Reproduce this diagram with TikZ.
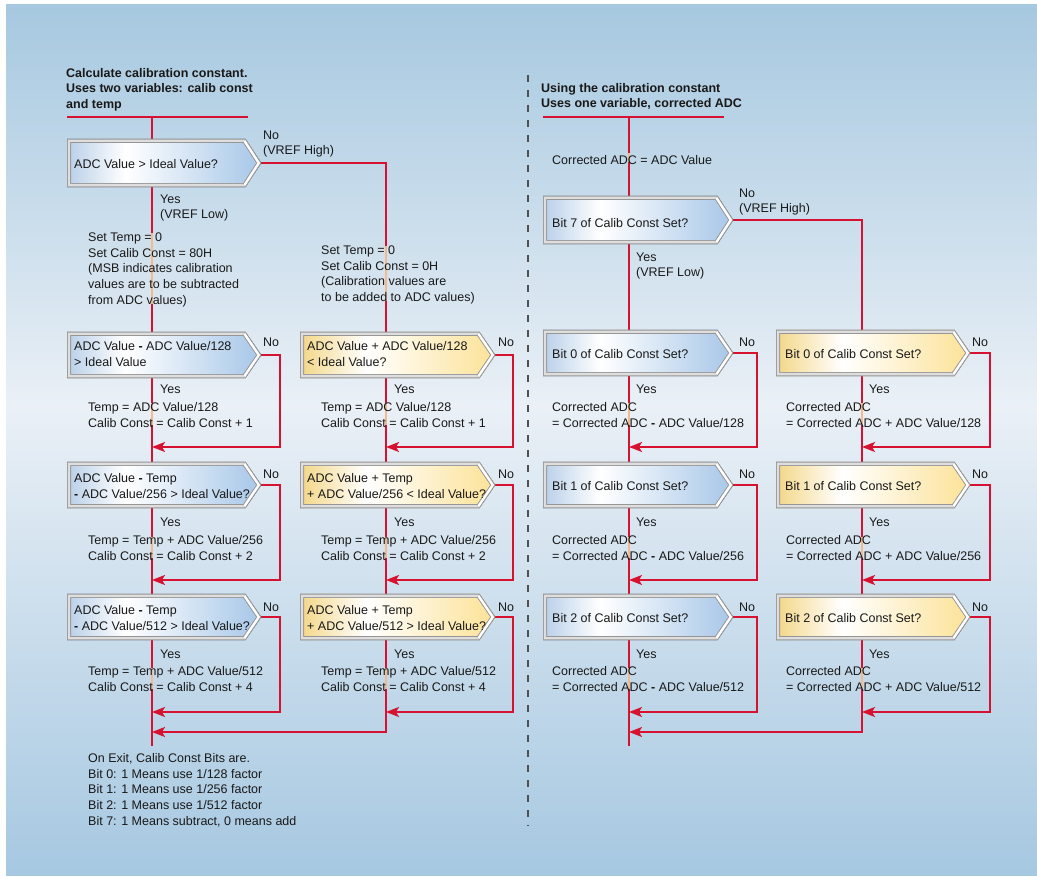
\documentclass[tikz,border=0pt]{standalone}
\usepackage{fontspec}
\setmainfont{Liberation Sans}
\usetikzlibrary{arrows.meta,calc}
\definecolor{redl}{RGB}{214,18,48}
\definecolor{orl}{RGB}{244,186,142}
\definecolor{bgT}{RGB}{166,200,224}
\definecolor{bgM}{RGB}{234,240,246}
\definecolor{bgB}{RGB}{166,200,225}
\definecolor{blA}{RGB}{184,207,232}
\definecolor{blB}{RGB}{166,198,232}
\definecolor{yeA}{RGB}{243,214,134}
\definecolor{yeB}{RGB}{252,226,150}
\definecolor{txc}{RGB}{25,25,25}
\definecolor{dashc}{RGB}{80,80,80}
\definecolor{bevO}{RGB}{150,150,150}
\definecolor{bevI}{RGB}{222,222,222}
\pgfdeclareverticalshading{bgsh}{100bp}{color(0bp)=(bgB); color(25bp)=(bgB); color(52bp)=(bgM); color(75bp)=(bgT); color(100bp)=(bgT)}
\pgfdeclarehorizontalshading{bluesh}{100bp}{color(0bp)=(blA); color(25bp)=(blA); color(40bp)=(white); color(75bp)=(blB); color(100bp)=(blB)}
\pgfdeclarehorizontalshading{yellowsh}{100bp}{color(0bp)=(yeA); color(25bp)=(yeA); color(42bp)=(white); color(75bp)=(yeB); color(100bp)=(yeB)}
\pgfdeclarelayer{back}
\pgfdeclarelayer{mid}
\pgfsetlayers{back,mid,main}
\tikzset{
  txt/.style={anchor=north west, yshift=11pt, align=left, inner sep=0pt, font=\fontsize{12.5}{15.7}\selectfont, text=txc, execute at begin node={\rule{0pt}{12pt}}},
  ml/.style={yshift=-3pt},
  hdr/.style={txt, ml, font=\fontsize{12.5}{15.2}\selectfont\bfseries},
  boxbody/.style={rectangle, anchor=west, inner sep=0pt, draw=none},
  bevel/.style={draw=bevO, line width=0.8pt, double=bevI, double distance=2.4pt, line join=miter},
  rl/.style={draw=redl, line width=1.8pt},
  arr/.style={rl, -{Stealth[length=13pt, width=10pt, inset=3pt]}},
  orng/.style={draw=orl, line width=1.8pt},
}
\newcommand\dbox[6]{%
  \node[boxbody, minimum width=#4, minimum height=#5] (#1) at (#2,#3) {};
  \coordinate (#1-tip) at ($(#1.east)+(16,0)$);
  \fill[shading=#6sh] (#1.north west) -- (#1.north east) -- (#1-tip) -- (#1.south east) -- (#1.south west) -- cycle;
  \draw[bevel] ([shift={(2,2)}]#1.north west) -- ([shift={(-1,2)}]#1.north east) -- ([shift={(-2.6,0)}]#1-tip) -- ([shift={(-1,-2)}]#1.south east) -- ([shift={(2,-2)}]#1.south west) -- cycle;
  \draw[bevel, double=white] ([shift={(-1,2)}]#1.north east) -- ([shift={(-2.6,0)}]#1-tip) -- ([shift={(-1,-2)}]#1.south east);
}
\newcommand\ovl[2]{\draw[orng] ([yshift=-1]#1 |- #2.north) -- ([yshift=3]#1 |- #2.south);}
\newcommand\mi{\textbf{-}}
\begin{document}
\begin{tikzpicture}[x=1pt, y=-1pt]
\useasboundingbox (0,0) rectangle (1037,877);
\begin{pgfonlayer}{back}
\fill[white] (0,0) rectangle (1037,877);
\fill[shading=bgsh] (6,5) rectangle (1037,875);
\end{pgfonlayer}

% column coordinates
\coordinate (cL) at (152,0);
\coordinate (cM) at (386,0);
\coordinate (cR) at (629,0);
\coordinate (cY) at (862,0);
\coordinate (rL) at (280,0);
\coordinate (rM) at (513,0);
\coordinate (rR) at (757,0);
\coordinate (rY) at (990,0);

% header lines
\coordinate (hLa) at (67,117);
\coordinate (hLb) at (248,117);
\coordinate (hRa) at (543,117);
\coordinate (hRb) at (724,117);

% merge points
\coordinate (mL1) at (152,447);
\coordinate (mL2) at (152,580);
\coordinate (mL3) at (152,712);
\coordinate (mL4) at (152,732);
\coordinate (eL) at (152,746);
\coordinate (mM1) at (386,447);
\coordinate (mM2) at (386,580);
\coordinate (mM3) at (386,712);
\coordinate (mR1) at (629,447);
\coordinate (mR2) at (629,580);
\coordinate (mR3) at (629,712);
\coordinate (mR4) at (629,732);
\coordinate (eR) at (629,746);
\coordinate (mY1) at (862,447);
\coordinate (mY2) at (862,580);
\coordinate (mY3) at (862,712);

% divider
\coordinate (dA) at (528,75);
\coordinate (dB) at (528,826);

% decision boxes
\dbox{L1}{67}{163}{178}{48}{blue}
\dbox{L2}{67}{355}{178}{46}{blue}
\dbox{L3}{67}{485}{178}{46}{blue}
\dbox{L4}{67}{617}{178}{46}{blue}
\dbox{M1}{300}{355}{179}{46}{yellow}
\dbox{M2}{300}{485}{179}{46}{yellow}
\dbox{M3}{300}{617}{179}{46}{yellow}
\dbox{R1}{543}{220}{174}{48}{blue}
\dbox{R2}{543}{353}{174}{46}{blue}
\dbox{R3}{543}{485}{174}{46}{blue}
\dbox{R4}{543}{617}{174}{46}{blue}
\dbox{Y1}{776}{353}{178}{46}{yellow}
\dbox{Y2}{776}{485}{178}{46}{yellow}
\dbox{Y3}{776}{617}{178}{46}{yellow}

% red connectors (behind boxes)
\begin{pgfonlayer}{back}
\draw[dashc, line width=1.8pt, dash pattern=on 7pt off 8pt] (dA) -- (dB);
\draw[rl] (hLa) -- (hLb);
\draw[rl] (hRa) -- (hRb);
\draw[rl] (cL |- hLa) -- (cL |- L1.north);
\draw[rl] (cR |- hRa) -- (cR |- R1.north);
\draw[rl] (cL |- L1.south) -- (cL |- L2.north);
\draw[rl] (cL |- L2.south) -- (cL |- L3.north);
\draw[rl] (cL |- L3.south) -- (cL |- L4.north);
\draw[rl] (cL |- L4.south) -- (eL);
\draw[rl] (L1-tip) -| (cM |- M1.north);
\draw[rl] (cM |- M1.south) -- (cM |- M2.north);
\draw[rl] (cM |- M2.south) -- (cM |- M3.north);
\draw[arr] (cM |- M3.south) |- (mL4);
\draw[arr] (L2-tip) -| (rL |- mL1) -- (mL1);
\draw[arr] (L3-tip) -| (rL |- mL2) -- (mL2);
\draw[arr] (L4-tip) -| (rL |- mL3) -- (mL3);
\draw[arr] (M1-tip) -| (rM |- mM1) -- (mM1);
\draw[arr] (M2-tip) -| (rM |- mM2) -- (mM2);
\draw[arr] (M3-tip) -| (rM |- mM3) -- (mM3);
\draw[rl] (cR |- R1.south) -- (cR |- R2.north);
\draw[rl] (cR |- R2.south) -- (cR |- R3.north);
\draw[rl] (cR |- R3.south) -- (cR |- R4.north);
\draw[rl] (cR |- R4.south) -- (eR);
\draw[rl] (R1-tip) -| (cY |- Y1.north);
\draw[rl] (cY |- Y1.south) -- (cY |- Y2.north);
\draw[rl] (cY |- Y2.south) -- (cY |- Y3.north);
\draw[arr] (cY |- Y3.south) |- (mR4);
\draw[arr] (R2-tip) -| (rR |- mR1) -- (mR1);
\draw[arr] (R3-tip) -| (rR |- mR2) -- (mR2);
\draw[arr] (R4-tip) -| (rR |- mR3) -- (mR3);
\draw[arr] (Y1-tip) -| (rY |- mY1) -- (mY1);
\draw[arr] (Y2-tip) -| (rY |- mY2) -- (mY2);
\draw[arr] (Y3-tip) -| (rY |- mY3) -- (mY3);
\end{pgfonlayer}

% ---------- texts ----------
\node[hdr] (hL) at (66,76.5) {Calculate calibration constant.\\Uses two variables: calib const\\and temp};
\node[hdr] (hR) at (541,91.5) {Using the calibration constant\\Uses one variable, corrected ADC};

% left column
\node[txt] (tL1) at (74,167.5) {ADC Value > Ideal Value?};
\node[txt, ml] (nL1) at (263,138.5) {No\\(VREF High)};
\node[txt, ml] (yL1) at (160,202.5) {Yes\\(VREF Low)};
\node[txt, ml] (sL) at (88,240.5) {Set Temp = 0\\Set Calib Const = 80H\\(MSB indicates calibration\\values are to be subtracted\\from ADC values)};
\node[txt, ml] (tL2) at (74,349.5) {ADC Value \mi{} ADC Value/128\\> Ideal Value};
\node[txt] (nL2) at (263,345.5) {No};
\node[txt] (yL2) at (160,392.5) {Yes};
\node[txt, ml] (aL2) at (88,410.5) {Temp = ADC Value/128\\Calib Const = Calib Const + 1};
\node[txt, ml] (tL3) at (74,481.5) {ADC Value \mi{} Temp\\\mi{} ADC Value/256 > Ideal Value?};
\node[txt] (nL3) at (263,477.5) {No};
\node[txt] (yL3) at (160,525.5) {Yes};
\node[txt, ml] (aL3) at (88,543.5) {Temp = Temp + ADC Value/256\\Calib Const = Calib Const + 2};
\node[txt, ml] (tL4) at (74,613.5) {ADC Value \mi{} Temp\\\mi{} ADC Value/512 > Ideal Value?};
\node[txt] (nL4) at (263,610.5) {No};
\node[txt] (yL4) at (160,657.5) {Yes};
\node[txt, ml] (aL4) at (88,674.5) {Temp = Temp + ADC Value/512\\Calib Const = Calib Const + 4};
\node[txt, ml, font=\fontsize{12.5}{15.75}\selectfont] (ex) at (88,761) {On Exit, Calib Const Bits are.\\Bit 0: 1 Means use 1/128 factor\\Bit 1: 1 Means use 1/256 factor\\Bit 2: 1 Means use 1/512 factor\\Bit 7: 1 Means subtract, 0 means add};

% middle column
\node[txt, ml] (sM) at (321,253.5) {Set Temp = 0\\Set Calib Const = 0H\\(Calibration values are\\to be added to ADC values)};
\node[txt, ml] (tM1) at (307,349.5) {ADC Value + ADC Value/128\\< Ideal Value?};
\node[txt] (nM1) at (498,345.5) {No};
\node[txt] (yM1) at (394,392.5) {Yes};
\node[txt, ml] (aM1) at (321,410.5) {Temp = ADC Value/128\\Calib Const = Calib Const + 1};
\node[txt, ml] (tM2) at (307,481.5) {ADC Value + Temp\\+ ADC Value/256 < Ideal Value?};
\node[txt] (nM2) at (498,477.5) {No};
\node[txt] (yM2) at (394,525.5) {Yes};
\node[txt, ml] (aM2) at (321,543.5) {Temp = Temp + ADC Value/256\\Calib Const = Calib Const + 2};
\node[txt, ml] (tM3) at (307,613.5) {ADC Value + Temp\\+ ADC Value/512 > Ideal Value?};
\node[txt] (nM3) at (498,610.5) {No};
\node[txt] (yM3) at (394,657.5) {Yes};
\node[txt, ml] (aM3) at (321,674.5) {Temp = Temp + ADC Value/512\\Calib Const = Calib Const + 4};

% right blue column
\node[txt] (cA) at (552,163) {Corrected ADC = ADC Value};
\node[txt] (tR1) at (552,226) {Bit 7 of Calib Const Set?};
\node[txt, ml] (nR1) at (739,196.5) {No\\(VREF High)};
\node[txt, ml] (yR1) at (636,260.5) {Yes\\(VREF Low)};
\node[txt] (tR2) at (552,357.5) {Bit 0 of Calib Const Set?};
\node[txt] (nR2) at (739,345.5) {No};
\node[txt] (yR2) at (636,392.5) {Yes};
\node[txt, ml] (aR2) at (552,410.5) {Corrected ADC\\= Corrected ADC \mi{} ADC Value/128};
\node[txt] (tR3) at (552,489.5) {Bit 1 of Calib Const Set?};
\node[txt] (nR3) at (739,477.5) {No};
\node[txt] (yR3) at (636,525.5) {Yes};
\node[txt, ml] (aR3) at (552,543.5) {Corrected ADC\\= Corrected ADC \mi{} ADC Value/256};
\node[txt] (tR4) at (552,621.5) {Bit 2 of Calib Const Set?};
\node[txt] (nR4) at (739,610.5) {No};
\node[txt] (yR4) at (636,657.5) {Yes};
\node[txt, ml] (aR4) at (552,674.5) {Corrected ADC\\= Corrected ADC \mi{} ADC Value/512};

% right yellow column
\node[txt] (tY1) at (785,357.5) {Bit 0 of Calib Const Set?};
\node[txt] (nY1) at (972,345.5) {No};
\node[txt] (yY1) at (869,392.5) {Yes};
\node[txt, ml] (aY1) at (786,410.5) {Corrected ADC\\= Corrected ADC + ADC Value/128};
\node[txt] (tY2) at (785,489.5) {Bit 1 of Calib Const Set?};
\node[txt] (nY2) at (972,477.5) {No};
\node[txt] (yY2) at (869,525.5) {Yes};
\node[txt, ml] (aY2) at (786,543.5) {Corrected ADC\\= Corrected ADC + ADC Value/256};
\node[txt] (tY3) at (785,621.5) {Bit 2 of Calib Const Set?};
\node[txt] (nY3) at (972,610.5) {No};
\node[txt] (yY3) at (869,657.5) {Yes};
\node[txt, ml] (aY3) at (786,674.5) {Corrected ADC\\= Corrected ADC + ADC Value/512};

% light segments of the lines behind text
\begin{pgfonlayer}{mid}
\ovl{cL}{sL}
\ovl{cL}{aL2}
\ovl{cL}{aL3}
\ovl{cL}{aL4}
\ovl{cM}{sM}
\ovl{cM}{aM1}
\ovl{cM}{aM2}
\ovl{cM}{aM3}
\ovl{cR}{cA}
\ovl{cR}{aR2}
\ovl{cR}{aR3}
\ovl{cR}{aR4}
\ovl{cY}{aY1}
\ovl{cY}{aY2}
\ovl{cY}{aY3}
\end{pgfonlayer}
\end{tikzpicture}
\end{document}
